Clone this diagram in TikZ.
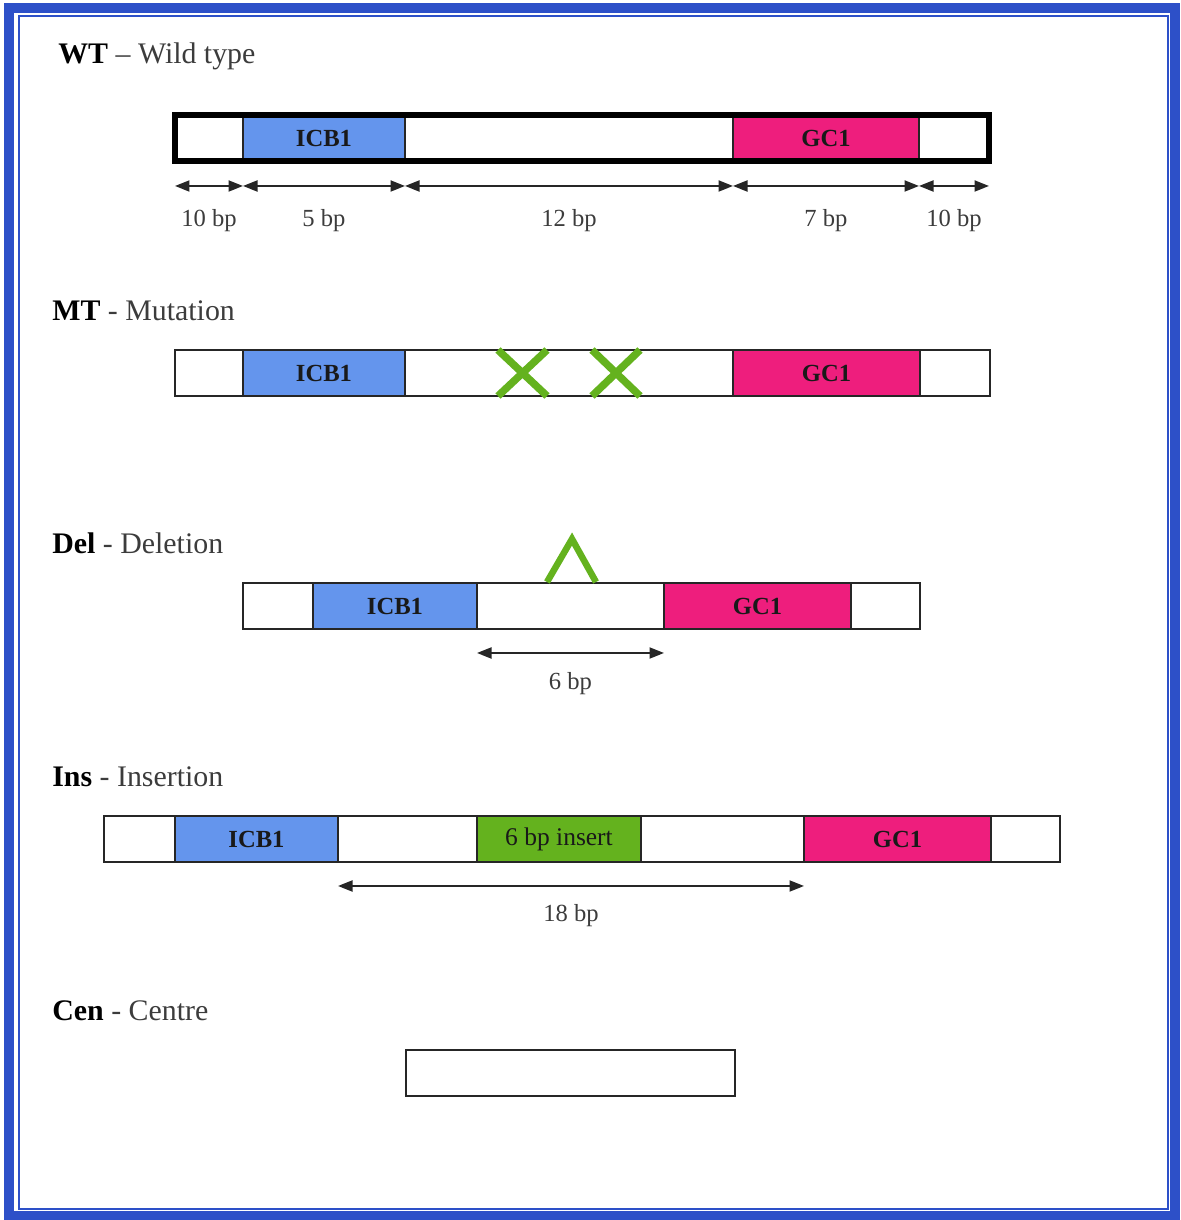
\documentclass[tikz,border=0pt]{standalone}
\usepackage{fontspec}
\setmainfont{Liberation Serif}
\usetikzlibrary{arrows.meta,positioning}

\definecolor{framblue}{RGB}{45,80,200}
\definecolor{icbblue}{RGB}{100,149,237}
\definecolor{gcpink}{RGB}{238,30,125}
\definecolor{insgreen}{RGB}{100,178,30}
\definecolor{labgray}{RGB}{60,60,60}

\tikzset{
  seg/.style={draw=black!85, line width=0.035cm, minimum height=0.92cm, inner sep=0pt, outer sep=0pt,
    anchor=north west, font=\fontsize{14}{16}\selectfont\bfseries, text=black!90},
  wd/.style={minimum width=#1*0.02cm},
  dim/.style={{Triangle[length=0.29cm,width=0.22cm]}-{Triangle[length=0.29cm,width=0.22cm]},
    line width=0.04cm, draw=black!85},
  bplabel/.style={font=\fontsize{14}{16}\selectfont, text=labgray},
  title/.style={anchor=base west, inner sep=0pt, font=\fontsize{17}{20}\selectfont, text=labgray},
  mutmark/.style={draw=insgreen, line width=0.15cm},
}

\begin{document}
\begin{tikzpicture}[x=0.02cm,y=-0.02cm]
		\useasboundingbox (0,0) rectangle (1180,1220);
		% Frame
		\draw[framblue, line width=0.2cm] (9,8) rectangle (1175,1216);
		\draw[framblue, line width=0.05cm] (19,16) rectangle (1168,1209);
		
		% WT - wild type
		\node[title] (twt) at (58,64) {\textcolor{black}{\bfseries WT} -- Wild type};
		\node[seg, wd=68] (wt1) at (175,115) {};
		\node[seg, wd=162, fill=icbblue] (wt2) at (243,115) {ICB1};
		\node[seg, wd=328] (wt3) at (405,115) {};
		\node[seg, wd=186, fill=gcpink] (wt4) at (733,115) {GC1};
		\node[seg, wd=70] (wt5) at (919,115) {};
		\draw[line width=0.12cm] (wt1.north west) rectangle (wt5.south east);
		
		\draw[dim] ([yshift=-0.5cm]wt1.south west) -- ([yshift=-0.5cm]wt1.south east) node[bplabel, midway, yshift=-0.7cm] {10 bp};
		\draw[dim] ([yshift=-0.5cm]wt2.south west) -- ([yshift=-0.5cm]wt2.south east) node[bplabel, midway, yshift=-0.7cm] {5 bp};
		\draw[dim] ([yshift=-0.5cm]wt3.south west) -- ([yshift=-0.5cm]wt3.south east) node[bplabel, midway, yshift=-0.7cm] {12 bp};
		\draw[dim] ([yshift=-0.5cm]wt4.south west) -- ([yshift=-0.5cm]wt4.south east) node[bplabel, midway, yshift=-0.7cm] {7 bp};
		\draw[dim] ([yshift=-0.5cm]wt5.south west) -- ([yshift=-0.5cm]wt5.south east) node[bplabel, midway, yshift=-0.7cm] {10 bp};
		
		% MT - mutation
		\node[title] (tmt) at (52,320) {\textcolor{black}{\bfseries MT} - Mutation};
		\node[seg, wd=68] (mt1) at (175,350) {};
		\node[seg, wd=162, fill=icbblue] (mt2) at (243,350) {ICB1};
		\node[seg, wd=328] (mt3) at (405,350) {};
		\node[seg, wd=187, fill=gcpink] (mt4) at (733,350) {GC1};
		\node[seg, wd=70] (mt5) at (920,350) {};
		\draw[mutmark] (498,350) -- (547,396) (498,396) -- (547,350);
		\draw[mutmark] (592,350) -- (640,396) (592,396) -- (640,350);
		
		% Del - deletion
		\node[title] (tdel) at (52,553) {\textcolor{black}{\bfseries Del} - Deletion};
		\node[seg, wd=70] (del1) at (243,583) {};
		\node[seg, wd=164, fill=icbblue] (del2) at (313,583) {ICB1};
		\node[seg, wd=187] (del3) at (477,583) {};
		\node[seg, wd=187, fill=gcpink] (del4) at (664,583) {GC1};
		\node[seg, wd=69] (del5) at (851,583) {};
		\draw[mutmark, line width=0.13cm] (547,582) -- (572,539) -- (596,582);
		\draw[dim] ([yshift=-0.48cm]del3.south west) -- ([yshift=-0.48cm]del3.south east) node[bplabel, midway, yshift=-0.62cm] {6 bp};
		
		% Ins - insertion
		\node[title] (tins) at (52,786) {\textcolor{black}{\bfseries Ins} - Insertion};
		\node[seg, wd=71] (ins1) at (104,816) {};
		\node[seg, wd=163, fill=icbblue] (ins2) at (175,816) {ICB1};
		\node[seg, wd=139] (ins3) at (338,816) {};
		\node[seg, wd=164, fill=insgreen, font=\fontsize{14.5}{16}\selectfont] (ins4) at (477,816) {6 bp insert};
		\node[seg, wd=163] (ins5) at (641,816) {};
		\node[seg, wd=187, fill=gcpink] (ins6) at (804,816) {GC1};
		\node[seg, wd=69] (ins7) at (991,816) {};
		\draw[dim] ([yshift=-0.48cm]ins3.south west) -- ([yshift=-0.48cm]ins5.south east) node[bplabel, midway, yshift=-0.6cm] {18 bp};
		
		% Cen - centre
		\node[title] (tcen) at (52,1020) {\textcolor{black}{\bfseries Cen} - Centre};
		\node[seg, wd=329] (cen) at (406,1050) {};
	\end{tikzpicture}
\end{document}
